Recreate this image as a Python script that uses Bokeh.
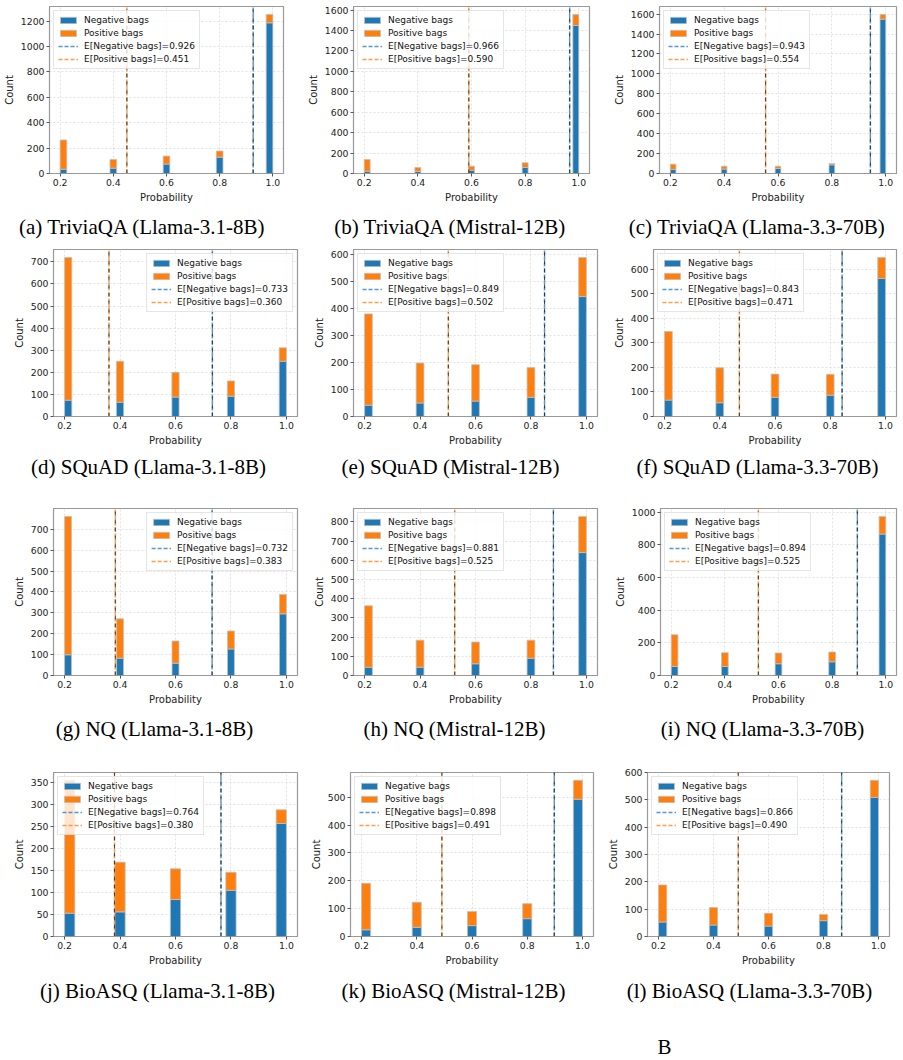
from bokeh.plotting import figure
from bokeh.models import Range1d, FixedTicker, Legend, LegendItem, ColumnDataSource
from bokeh.layouts import column, row
from bokeh.embed import file_html
from bokeh.resources import INLINE
from bokeh.core.properties import value

# ---------------------------------------------------------------- data
probs = [0.2, 0.4, 0.6, 0.8, 1.0]
x_tick_labels = ["0.2", "0.4", "0.6", "0.8", "1.0"]

captions = [
    "(a) TriviaQA (Llama-3.1-8B)", "(b) TriviaQA (Mistral-12B)", "(c) TriviaQA (Llama-3.3-70B)",
    "(d) SQuAD (Llama-3.1-8B)", "(e) SQuAD (Mistral-12B)", "(f) SQuAD (Llama-3.3-70B)",
    "(g) NQ (Llama-3.1-8B)", "(h) NQ (Mistral-12B)", "(i) NQ (Llama-3.3-70B)",
    "(j) BioASQ (Llama-3.1-8B)", "(k) BioASQ (Mistral-12B)", "(l) BioASQ (Llama-3.3-70B)",
]

# counts per probability bin: negative bags (bottom) and positive bags (stacked on top)
neg_a = [34, 42, 74, 129, 1187]
pos_a = [230, 69, 63, 48, 66]
neg_b = [23, 20, 33, 59, 1449]
pos_b = [115, 39, 39, 46, 108]
neg_c = [40, 44, 50, 87, 1550]
pos_c = [54, 30, 24, 14, 47]
neg_d = [74, 65, 88, 92, 250]
pos_d = [646, 185, 112, 69, 61]
neg_e = [42, 50, 57, 71, 444]
pos_e = [338, 148, 135, 110, 145]
neg_f = [67, 56, 78, 87, 563]
pos_f = [280, 143, 95, 85, 86]
neg_g = [99, 83, 59, 127, 295]
pos_g = [662, 188, 106, 86, 93]
neg_h = [43, 43, 61, 90, 640]
pos_h = [320, 141, 113, 94, 188]
neg_i = [55, 55, 72, 84, 867]
pos_i = [195, 85, 66, 60, 108]
neg_j = [53, 56, 84, 105, 257]
pos_j = [302, 113, 70, 41, 31]
neg_k = [24, 33, 39, 64, 493]
pos_k = [167, 90, 51, 54, 68]
neg_l = [53, 42, 38, 58, 509]
pos_l = [136, 64, 47, 23, 63]

neg_counts = [neg_a, neg_b, neg_c, neg_d, neg_e, neg_f, neg_g, neg_h, neg_i, neg_j, neg_k, neg_l]
pos_counts = [pos_a, pos_b, pos_c, pos_d, pos_e, pos_f, pos_g, pos_h, pos_i, pos_j, pos_k, pos_l]

mean_neg = [0.926, 0.966, 0.943, 0.733, 0.849, 0.843, 0.732, 0.881, 0.894, 0.764, 0.898, 0.866]
mean_pos = [0.451, 0.590, 0.554, 0.360, 0.502, 0.471, 0.383, 0.525, 0.525, 0.380, 0.491, 0.490]

# histogram bin width of each panel
bin_width = [0.025, 0.022, 0.021, 0.026, 0.028, 0.028, 0.025, 0.028, 0.025, 0.037, 0.033, 0.030]

y_ticks = [
    list(range(0, 1201, 200)), list(range(0, 1601, 200)), list(range(0, 1601, 200)),
    list(range(0, 701, 100)), list(range(0, 601, 100)), list(range(0, 601, 100)),
    list(range(0, 701, 100)), list(range(0, 801, 100)), list(range(0, 1001, 200)),
    list(range(0, 351, 50)), list(range(0, 501, 100)), list(range(0, 601, 100)),
]

# ---------------------------------------------------------------- layout
CELL_W = 301
row_heights = [205, 205, 210, 215]
strip_heights = [40, 50, 45, 90]
border_left = [45, 52, 57, 53, 52, 51, 53, 52, 58, 53, 49, 45]
border_right = [18, 13, 7, 4, 5, 7, 4, 5, 7, 4, 9, 14]
border_top = [6, 6, 6, 4, 4, 4, 8, 8, 8, 14, 14, 17]
legend_loc = ["top_left", "top_left", "top_left", "top_right", "top_left", "top_left",
              "top_right", "top_left", "top_left", "top_left", "top_left", "top_left"]
caption_x = [142, 450, 757, 148, 450, 757, 154, 454, 762, 157, 453, 749]
caption_y = [21, 16, 18, 20]

BLUE = "#1f77b4"
ORANGE = "#ff7f0e"
SANS = "DejaVu Sans"
SERIF = "Liberation Serif"


def make_panel(i, height):
    neg = neg_counts[i]
    pos = pos_counts[i]
    w = bin_width[i]
    lefts = []
    for k, pr in enumerate(probs):
        if k == 0:
            lefts.append(pr)
        elif k == len(probs) - 1:
            lefts.append(pr - w)
        else:
            lefts.append(pr - w / 2)
    rights = [l + w for l in lefts]
    totals = [n + q for n, q in zip(neg, pos)]
    y_top = max(totals) * 1.05

    p = figure(width=CELL_W, height=height,
               x_range=Range1d(0.16, 1.04), y_range=Range1d(0, y_top),
               output_backend="svg", toolbar_location=None,
               min_border_left=border_left[i], min_border_right=border_right[i],
               min_border_top=border_top[i], min_border_bottom=height - border_top[i] - 167)

    src = ColumnDataSource(dict(left=lefts, right=rights, neg=neg, tot=totals))
    r_neg = p.quad(left="left", right="right", bottom=0, top="neg", source=src,
                   fill_color=BLUE, line_color="#c0c0c0", line_width=0.8)
    r_pos = p.quad(left="left", right="right", bottom="neg", top="tot", source=src,
                   fill_color=ORANGE, line_color="#c0c0c0", line_width=0.8)

    r_mn = p.segment(x0=[mean_neg[i]], y0=[0], x1=[mean_neg[i]], y1=[y_top],
                     line_color=BLUE, line_alpha=0.75, line_width=1.5, line_dash="4 2")
    r_mp = p.segment(x0=[mean_pos[i]], y0=[0], x1=[mean_pos[i]], y1=[y_top],
                     line_color=ORANGE, line_alpha=0.75, line_width=1.5, line_dash="4 2")
    p.segment(x0=[mean_neg[i], mean_pos[i]], y0=[0, 0], x1=[mean_neg[i], mean_pos[i]],
              y1=[y_top, y_top], line_color="#222222", line_alpha=0.8, line_width=1.1,
              line_dash="4 4")

    legend = Legend(items=[
        LegendItem(label="Negative bags", renderers=[r_neg]),
        LegendItem(label="Positive bags", renderers=[r_pos]),
        LegendItem(label="E[Negative bags]=%.3f" % mean_neg[i], renderers=[r_mn]),
        LegendItem(label="E[Positive bags]=%.3f" % mean_pos[i], renderers=[r_mp]),
    ], location=legend_loc[i])
    legend.label_text_font = SANS
    legend.label_text_font_size = "9px"
    legend.label_text_color = "#111111"
    legend.glyph_width = 20
    legend.glyph_height = 8
    legend.label_height = 10
    legend.label_standoff = 6
    legend.spacing = 3
    legend.padding = 4
    legend.margin = 4
    legend.border_line_color = "#cccccc"
    legend.border_line_width = 1
    legend.background_fill_alpha = 0.8
    p.add_layout(legend)

    p.xaxis.ticker = FixedTicker(ticks=probs)
    p.xaxis.major_label_overrides = {t: s for t, s in zip(probs, x_tick_labels)}
    p.yaxis.ticker = FixedTicker(ticks=y_ticks[i])
    p.xaxis.axis_label = "Probability"
    p.yaxis.axis_label = "Count"
    for ax in (p.xaxis[0], p.yaxis[0]):
        ax.major_label_text_font = SANS
        ax.major_label_text_font_size = "9.3px"
        ax.major_label_text_color = "#222222"
        ax.axis_label_text_font = SANS
        ax.axis_label_text_font_size = "10px"
        ax.axis_label_text_font_style = "normal"
        ax.axis_label_text_color = "#222222"
        ax.axis_label_standoff = 3
        ax.major_label_standoff = 2
        ax.major_tick_in = 0
        ax.major_tick_out = 3
        ax.major_tick_line_color = "#555555"
        ax.minor_tick_line_color = None
        ax.axis_line_color = "#999999"
    p.outline_line_color = "#999999"
    p.outline_line_width = 1.2
    p.grid.grid_line_color = "#c8c8c8"
    p.grid.grid_line_alpha = 0.5
    p.grid.grid_line_dash = "2 2"
    return p


def make_strip(r, height, extra=None):
    s = figure(width=3 * CELL_W, height=height, x_range=Range1d(0, 3 * CELL_W),
               y_range=Range1d(height, 0), output_backend="svg", toolbar_location=None,
               x_axis_type=None, y_axis_type=None,
               min_border_left=0, min_border_right=0, min_border_top=0, min_border_bottom=0)
    s.grid.visible = False
    s.outline_line_color = None
    idx = [3 * r, 3 * r + 1, 3 * r + 2]
    src = ColumnDataSource(dict(x=[caption_x[k] for k in idx],
                                y=[caption_y[r]] * 3,
                                t=[captions[k] for k in idx]))
    s.text(x="x", y="y", text="t", source=src, text_font=value(SERIF),
           text_font_size=value("21px"), text_align="center", text_baseline="middle",
           text_color="#000000")
    if extra is not None:
        s.text(x=[extra[0]], y=[extra[1]], text=[extra[2]], text_font=value(SERIF),
               text_font_size=value("21px"), text_align="center", text_baseline="bottom",
               text_color="#000000")
    return s


blocks = []
for r in range(4):
    panels = [make_panel(3 * r + c, row_heights[r]) for c in range(3)]
    blocks.append(row(*panels, spacing=0))
    extra = (664, 88, "B") if r == 3 else None
    blocks.append(make_strip(r, strip_heights[r], extra))

page = column(*blocks, spacing=0)

with open("out.html", "w") as f:
    f.write(file_html(page, INLINE, title="Probability histograms"))
